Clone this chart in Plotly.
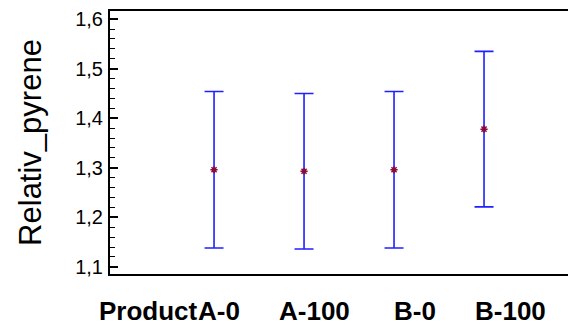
import plotly.graph_objects as go

categories = ["A-0", "A-100", "B-0", "B-100"]
means = [1.296, 1.293, 1.296, 1.378]
half_widths = [0.158, 0.157, 0.158, 0.157]
x_title = "Product"
y_title = "Relativ_pyrene"
ytick_vals = [1.1, 1.2, 1.3, 1.4, 1.5, 1.6]
ytick_text = ["1,1", "1,2", "1,3", "1,4", "1,5", "1,6"]

xpos = list(range(1, len(categories) + 1))
label_shift = [5, 10, 21, 26]
FONT = "Liberation Sans, Arial"

fig = go.Figure()
fig.add_trace(go.Scatter(
    x=xpos, y=means, mode="markers",
    marker=dict(symbol="asterisk", size=6, color="#8b0a3a",
                line=dict(color="#8b0a3a", width=1.5)),
    error_y=dict(type="data", array=half_widths, visible=True,
                 color="#2020ff", thickness=1.6, width=9.5),
    showlegend=False,
))

for xp, cat, sh in zip(xpos, categories, label_shift):
    fig.add_annotation(x=xp, y=0, xref="x", yref="paper", yanchor="middle",
                       yshift=-37, xshift=sh, text=cat, showarrow=False,
                       font=dict(family=FONT, size=26, color="black", weight="bold"))
fig.add_annotation(x=0.197, y=0, xref="paper", yref="paper", yanchor="middle", xanchor="right",
                   yshift=-37, text=x_title, showarrow=False,
                   font=dict(family=FONT, size=26, color="black", weight="bold"))

fig.update_layout(
    width=568, height=326,
    margin=dict(l=110, r=0, t=11, b=52),
    paper_bgcolor="white", plot_bgcolor="white",
    font=dict(family=FONT, color="black"),
)
fig.update_xaxes(
    range=[-0.156, 4.933], showgrid=False, zeroline=False,
    showticklabels=False, ticks="",
    showline=True, linecolor="black", linewidth=2, mirror=True,
)
fig.update_yaxes(
    range=[1.0855, 1.6165], showgrid=False, zeroline=False,
    tickvals=ytick_vals, ticktext=ytick_text,
    ticks="inside", ticklen=8, tickwidth=1.5, tickcolor="black",
    minor=dict(ticks="inside", ticklen=5, tickwidth=1.2, tickcolor="black", dtick=0.02),
    tickfont=dict(size=20, family=FONT, color="black"),
    ticklabelstandoff=1,
    showline=True, linecolor="black", linewidth=2,
    title=dict(text=y_title, font=dict(size=31, family=FONT, color="black"),
               standoff=24),
)

fig.write_html("out.html")
